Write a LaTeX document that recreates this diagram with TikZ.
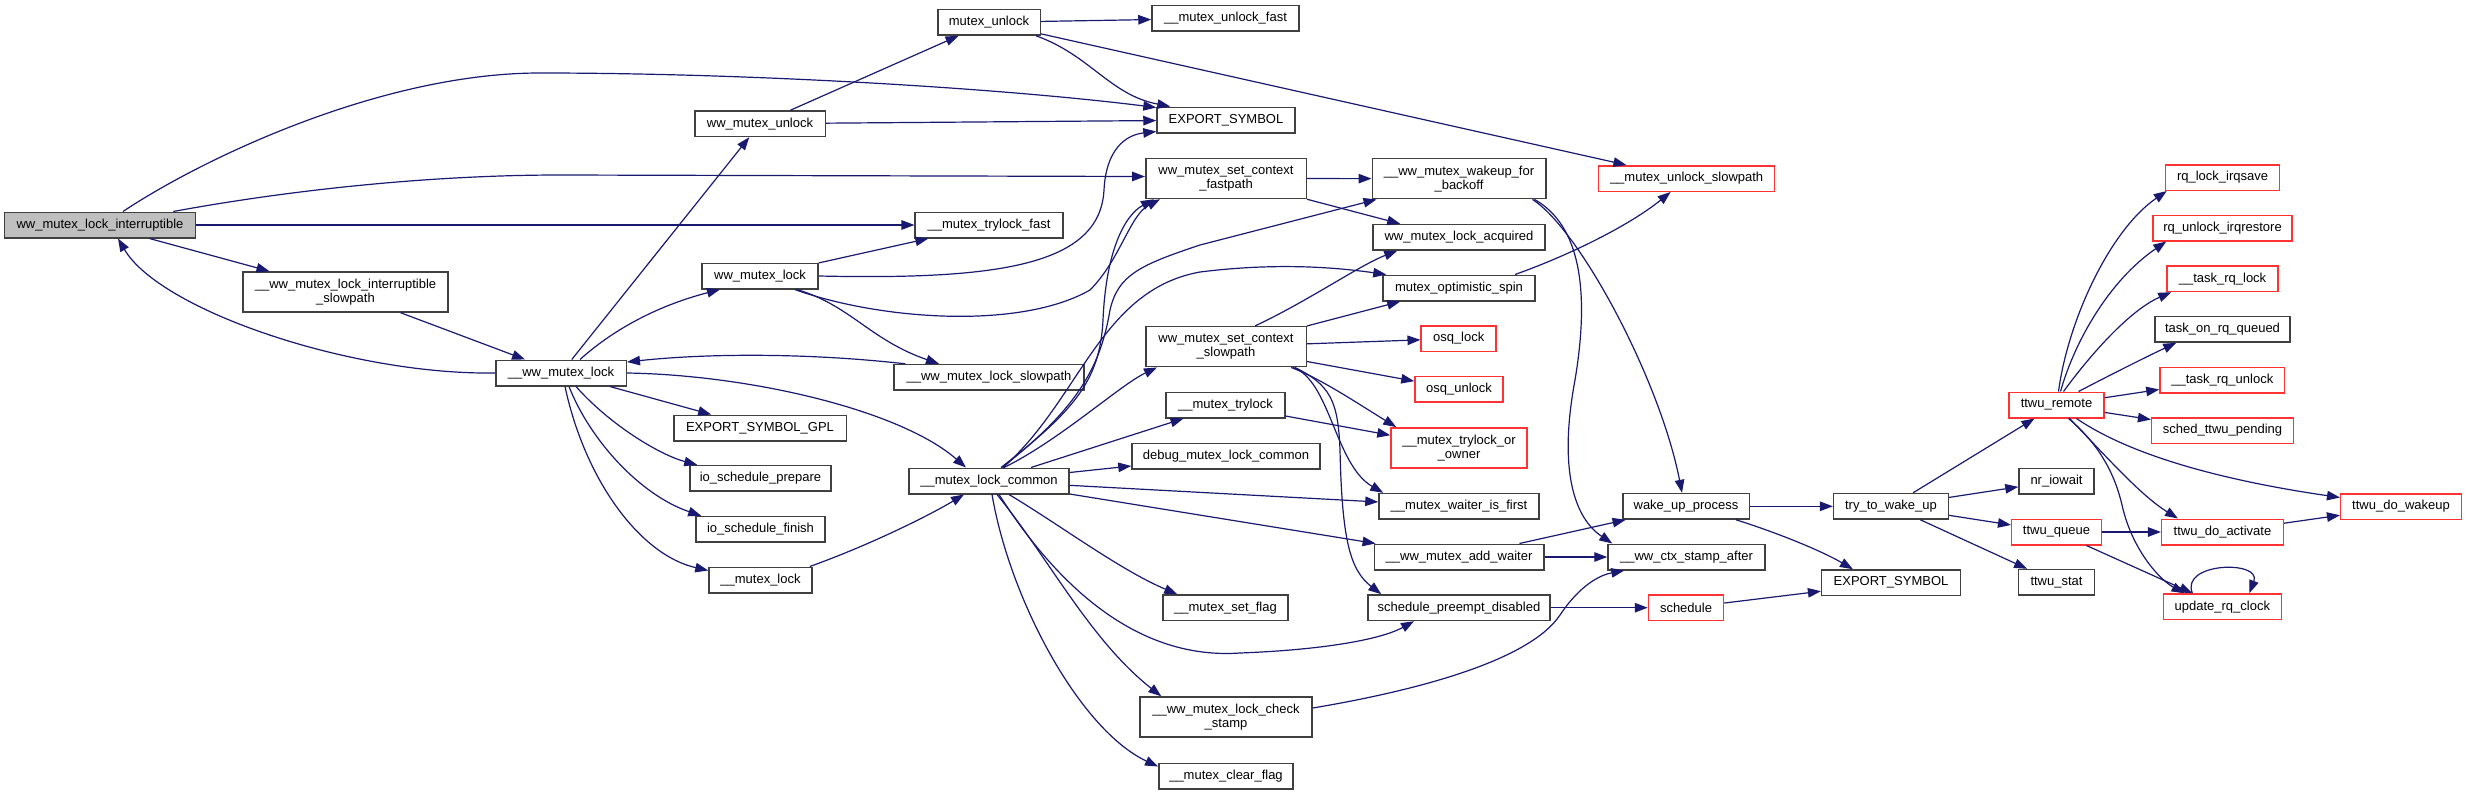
\documentclass[tikz,border=0pt]{standalone}
\usepackage{fontspec}
\setmainfont{Liberation Sans}
\usetikzlibrary{arrows.meta}
\definecolor{edgec}{HTML}{191970}
\definecolor{boxc}{HTML}{404040}
\definecolor{redc}{HTML}{FF3333}
\definecolor{rootc}{HTML}{BFBFBF}
\begin{document}
\begin{tikzpicture}[x=1pt,y=-1pt,
  box/.style={draw=boxc, line width=1.5pt, fill=white, inner sep=0pt, minimum height=25.5pt, font=\fontsize{13}{14}\selectfont, align=center},
  tall/.style={minimum height=40pt},
  trunc/.style={draw=redc},
  root/.style={fill=rootc},
  edge/.style={draw=edgec, line width=1.2pt, -{Triangle[length=13pt,width=9.5pt]}},
]
\useasboundingbox (0,0) rectangle (2467,795);

\node[box,root,minimum width=191pt] (R) at (100,225) {ww\_mutex\_lock\_interruptible};
\node[box,tall,minimum width=205pt] (IS) at (345.5,292) {\_\_ww\_mutex\_lock\_interruptible\\\_slowpath};
\node[box,minimum width=130.5pt] (W) at (561,373) {\_\_ww\_mutex\_lock};
\node[box,minimum width=130.5pt] (WMU) at (760,123.7) {ww\_mutex\_unlock};
\node[box,minimum width=116pt] (WML) at (760,276) {ww\_mutex\_lock};
\node[box,minimum width=172.5pt] (ESG) at (760,428) {EXPORT\_SYMBOL\_GPL};
\node[box,minimum width=141pt] (ISP) at (760.5,478.3) {io\_schedule\_prepare};
\node[box,minimum width=129pt] (ISF) at (760.5,529.3) {io\_schedule\_finish};
\node[box,minimum width=103pt] (ML) at (760.5,580) {\_\_mutex\_lock};
\node[box,minimum width=102.5pt] (MU) at (989,22.3) {mutex\_unlock};
\node[box,minimum width=147.6pt] (MTF) at (989,225) {\_\_mutex\_trylock\_fast};
\node[box,minimum width=190pt] (WMLS) at (989,377.3) {\_\_ww\_mutex\_lock\_slowpath};
\node[box,minimum width=160pt] (C) at (989,481) {\_\_mutex\_lock\_common};
\node[box,minimum width=147pt] (MUF) at (1225.5,18.3) {\_\_mutex\_unlock\_fast};
\node[box,minimum width=138pt] (ES1) at (1226,120) {EXPORT\_SYMBOL};
\node[box,tall,minimum width=160.5pt] (FP) at (1226,178.5) {ww\_mutex\_set\_context\\\_fastpath};
\node[box,tall,minimum width=160.5pt] (SP) at (1226,346.7) {ww\_mutex\_set\_context\\\_slowpath};
\node[box,minimum width=119pt] (MT) at (1225.5,405) {\_\_mutex\_trylock};
\node[box,minimum width=188pt] (DMLC) at (1226,456) {debug\_mutex\_lock\_common};
\node[box,minimum width=125pt] (MSF) at (1225.5,607.7) {\_\_mutex\_set\_flag};
\node[box,tall,minimum width=172pt] (CS) at (1226,717) {\_\_ww\_mutex\_lock\_check\\\_stamp};
\node[box,minimum width=134.4pt] (MCF) at (1226,776) {\_\_mutex\_clear\_flag};
\node[box,tall,minimum width=173.5pt] (WFB) at (1459,178.7) {\_\_ww\_mutex\_wakeup\_for\\\_backoff};
\node[box,minimum width=172pt] (WLA) at (1459,237.3) {ww\_mutex\_lock\_acquired};
\node[box,minimum width=152pt] (MOS) at (1459,288) {mutex\_optimistic\_spin};
\node[box,trunc,minimum width=75pt] (OL) at (1458.7,338.5) {osq\_lock};
\node[box,trunc,minimum width=88pt] (OU) at (1459,389.3) {osq\_unlock};
\node[box,trunc,tall,minimum width=136pt] (TOO) at (1459,447.8) {\_\_mutex\_trylock\_or\\\_owner};
\node[box,minimum width=160pt] (WIF) at (1459,506.3) {\_\_mutex\_waiter\_is\_first};
\node[box,minimum width=169.5pt] (AW) at (1459,557) {\_\_ww\_mutex\_add\_waiter};
\node[box,minimum width=182pt] (SPD) at (1459,607.7) {schedule\_preempt\_disabled};
\node[box,trunc,minimum width=176pt] (MUS) at (1686.6,178.5) {\_\_mutex\_unlock\_slowpath};
\node[box,minimum width=126.5pt] (WUP) at (1686,506.3) {wake\_up\_process};
\node[box,minimum width=157pt] (CSA) at (1686.5,557) {\_\_ww\_ctx\_stamp\_after};
\node[box,trunc,minimum width=75pt] (SCH) at (1686,607.7) {schedule};
\node[box,minimum width=114.7pt] (TTWU) at (1891,506.3) {try\_to\_wake\_up};
\node[box,minimum width=138.7pt] (ES2) at (1891,582.7) {EXPORT\_SYMBOL};
\node[box,trunc,minimum width=95pt] (TR) at (2056.5,405) {ttwu\_remote};
\node[box,minimum width=75pt] (NI) at (2056.5,481) {nr\_iowait};
\node[box,trunc,minimum width=89.6pt] (TQ) at (2056.5,532) {ttwu\_queue};
\node[box,minimum width=76.4pt] (TS) at (2056.5,582.3) {ttwu\_stat};
\node[box,trunc,minimum width=114pt] (RLI) at (2222.5,177.5) {rq\_lock\_irqsave};
\node[box,trunc,minimum width=139pt] (RUI) at (2222.5,228) {rq\_unlock\_irqrestore};
\node[box,trunc,minimum width=111pt] (TRL) at (2222.5,278.7) {\_\_task\_rq\_lock};
\node[box,minimum width=135pt] (TORQ) at (2222.5,329.3) {task\_on\_rq\_queued};
\node[box,trunc,minimum width=124.7pt] (TRU) at (2222.3,380) {\_\_task\_rq\_unlock};
\node[box,trunc,minimum width=141.7pt] (STP) at (2222.5,430.5) {sched\_ttwu\_pending};
\node[box,trunc,minimum width=120.6pt] (TDW) at (2401,506.5) {ttwu\_do\_wakeup};
\node[box,trunc,minimum width=121.6pt] (TDA) at (2222.5,532) {ttwu\_do\_activate};
\node[box,trunc,minimum width=118pt] (URC) at (2222.3,606.7) {update\_rq\_clock};

% root edges
\draw[edge] ([xshift=23pt]R.north) .. controls (200,160) and (380,73) .. (540,73) .. controls (750,73) and (1000,88) .. ([yshift=-1pt]ES1.north west);
\draw[edge] ([xshift=-23pt]R.north east) .. controls (290,190) and (430,175) .. (560,175) -- ([yshift=2pt]FP.west);
\draw[edge] (R) -- (MTF);
\draw[edge] (R) -- (IS);
\draw[edge] (W.west) .. controls (350,375) and (160,310) .. ([xshift=18pt]R.south);
\draw[edge] (IS) -- (W);
% __ww_mutex_lock
\draw[edge] (W) -- (WMU);
\draw[edge] ([xshift=19pt]W.north) .. controls (615,328) and (660,305) .. ([xshift=-40pt]WML.south);
\draw[edge] ([xshift=12pt]WMLS.north west) .. controls (800,352) and (700,354) .. ([yshift=11pt]W.east);
\draw[edge] (W.east) .. controls (750,375) and (900,410) .. ([xshift=-23pt]C.north);
\draw[edge] (W) -- (ESG);
\draw[edge] ([xshift=15pt]W.south) .. controls (610,425) and (660,455) .. ([xshift=8pt]ISP.north west);
\draw[edge] ([xshift=8pt]W.south) .. controls (590,440) and (640,495) .. ([xshift=6pt]ISF.north west);
\draw[edge] ([xshift=4pt]W.south) .. controls (585,480) and (640,555) .. ([yshift=-4pt]ML.north west);
\draw[edge] ([xshift=-3pt]ML.north east) .. controls (870,545) and (930,515) .. ([xshift=-25pt]C.south);
% unlock side
\draw[edge] (WMU) -- (MU);
\draw[edge] (WMU) -- (ES1);
\draw[edge] (MU) -- (MUF);
\draw[edge] ([xshift=-5pt]MU.south east) .. controls (1090,55) and (1110,95) .. ([xshift=14pt]ES1.north west);
\draw[edge] (MU) -- (MUS);
% ww_mutex_lock
\draw[edge] (WML) -- (MTF);
\draw[edge] (WML.east) .. controls (1000,280) and (1100,265) .. (1104,190) .. controls (1106,150) and (1125,135) .. ([yshift=2pt]ES1.south west);
\draw[edge] ([xshift=-24pt]WML.south east) .. controls (880,320) and (1020,330) .. (1090,290) .. controls (1120,260) and (1130,215) .. ([xshift=15pt]FP.south west);
\draw[edge] ([xshift=-22pt]WML.south east) .. controls (850,305) and (870,340) .. ([xshift=-50pt]WMLS.north);
% __mutex_lock_common
\draw[edge] ([xshift=12pt]C.north) .. controls (1075,410) and (1100,380) .. (1103,320) .. controls (1106,250) and (1125,215) .. ([xshift=9pt]FP.south west);
\draw[edge] ([xshift=13pt]C.north) .. controls (1075,410) and (1100,370) .. (1110,310) .. controls (1118,275) and (1140,265) .. (1200,245) -- ([xshift=5pt]WFB.south west);
\draw[edge] ([xshift=14pt]C.north) .. controls (1080,400) and (1100,290) .. (1200,272) .. controls (1280,262) and (1340,268) .. ([xshift=4pt]MOS.north west);
\draw[edge] ([xshift=15pt]C.north) .. controls (1060,440) and (1120,385) .. ([xshift=12pt]SP.south west);
\draw[edge] (C) -- (MT);
\draw[edge] (C) -- (DMLC);
\draw[edge] (C) -- (WIF);
\draw[edge] (C) -- (AW);
\draw[edge] ([xshift=20pt]C.south) .. controls (1060,525) and (1120,570) .. ([xshift=15pt]MSF.north west);
\draw[edge] ([xshift=10pt]C.south) .. controls (1060,590) and (1140,660) .. (1240,653) .. controls (1320,650) and (1380,640) .. ([xshift=-45pt]SPD.south);
\draw[edge] ([xshift=8pt]C.south) .. controls (1050,560) and (1090,640) .. ([xshift=22pt]CS.north west);
\draw[edge] ([xshift=3pt]C.south) .. controls (1010,600) and (1080,730) .. ([yshift=-4pt]MCF.north west);
\draw[edge] ([yshift=9pt]CS.east) .. controls (1420,690) and (1530,660) .. (1560,615) .. controls (1580,585) and (1600,575) .. ([xshift=17pt]CSA.south west);
% fastpath / slowpath
\draw[edge] (FP) -- (WFB);
\draw[edge] (FP.south east) -- ([xshift=28pt]WLA.north west);
\draw[edge] ([xshift=29pt]SP.north) .. controls (1310,300) and (1360,265) .. ([xshift=25pt]WLA.south west);
\draw[edge] (SP.north east) -- ([xshift=18pt]MOS.south west);
\draw[edge] (SP) -- (OL);
\draw[edge] (SP) -- (OU);
\draw[edge] ([xshift=-16pt]SP.south east) .. controls (1320,378) and (1360,405) .. ([xshift=6pt]TOO.north west);
\draw[edge] ([xshift=-14pt]SP.south east) .. controls (1330,380) and (1335,465) .. ([xshift=5pt]WIF.north west);
\draw[edge] ([xshift=-12pt]SP.south east) .. controls (1330,385) and (1338,400) .. (1340,450) .. controls (1342,540) and (1350,570) .. ([xshift=14pt]SPD.north west);
\draw[edge] (MT) -- (TOO);
% wakeup side
\draw[edge] ([xshift=-14pt]WFB.south east) .. controls (1580,230) and (1660,380) .. ([xshift=-4pt]WUP.north);
\draw[edge] ([xshift=-12pt]WFB.south east) .. controls (1580,225) and (1590,290) .. (1575,380) .. controls (1560,460) and (1570,515) .. ([xshift=5pt]CSA.north west);
\draw[edge] ([xshift=56pt]MOS.north) .. controls (1570,255) and (1630,225) .. ([xshift=-16pt]MUS.south);
\draw[edge] (AW) -- (WUP);
\draw[edge] (AW) -- (CSA);
\draw[edge] (SPD) -- (SCH);
\draw[edge] (WUP) -- (TTWU);
\draw[edge] ([xshift=50pt]WUP.south) .. controls (1775,532) and (1820,550) .. ([xshift=32pt]ES2.north west);
\draw[edge] (SCH) -- (ES2);
% try_to_wake_up
\draw[edge] (TTWU) -- (TR);
\draw[edge] (TTWU) -- (NI);
\draw[edge] (TTWU) -- (TQ);
\draw[edge] (TTWU) -- (TS);
% ttwu_remote
\draw[edge] ([xshift=2pt]TR.north) .. controls (2068,320) and (2110,230) .. ([xshift=2pt]RLI.south west);
\draw[edge] ([xshift=4pt]TR.north) .. controls (2075,340) and (2110,280) .. ([xshift=14pt]RUI.south west);
\draw[edge] ([xshift=7pt]TR.north) .. controls (2090,355) and (2130,310) .. ([xshift=5pt]TRL.south west);
\draw[edge] ([xshift=22pt]TR.north) .. controls (2110,375) and (2150,355) .. ([xshift=22pt]TORQ.south west);
\draw[edge] (TR) -- (TRU);
\draw[edge] (TR) -- (STP);
\draw[edge] ([xshift=20pt]TR.south) .. controls (2130,455) and (2220,480) .. ([yshift=-4.5pt]TDW.north west);
\draw[edge] ([xshift=13pt]TR.south) .. controls (2105,455) and (2140,495) .. ([xshift=17pt]TDA.north west);
\draw[edge] ([xshift=12pt]TR.south) .. controls (2100,445) and (2115,475) .. (2122,505) .. controls (2132,550) and (2160,580) .. ([xshift=22pt]URC.north west);
\draw[edge] (TQ) -- (TDA);
\draw[edge] (TQ) -- (URC);
\draw[edge] ([xshift=-30pt]URC.north) .. controls (2180,562) and (2262,560) .. ([xshift=27pt]URC.north);
\draw[edge] (TDA) -- (TDW);
\end{tikzpicture}
\end{document}
